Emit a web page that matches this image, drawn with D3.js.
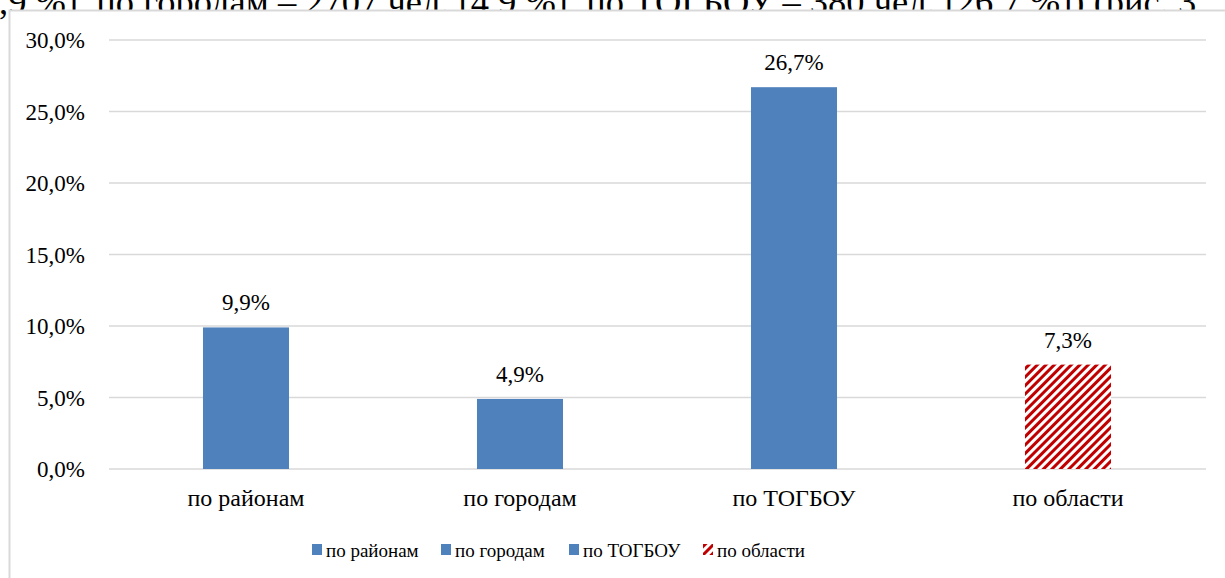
<!DOCTYPE html>
<html><head><meta charset="utf-8">
<script src="https://cdn.jsdelivr.net/npm/d3@7"></script>
<style>body{margin:0;background:#fff;overflow:hidden}svg{display:block}</style>
</head><body><svg id="c" width="1225" height="578" font-family="Tinos, 'Times New Roman', serif"></svg>
<script>
const categories = ["по районам", "по городам", "по ТОГБОУ", "по области"];
const values = [9.9, 4.9, 26.7, 7.3];
const valueLabels = ["9,9%", "4,9%", "26,7%", "7,3%"];
const patterned = [false, false, false, true];
const yTicks = [0, 5, 10, 15, 20, 25, 30];
const yTickLabels = ["0,0%", "5,0%", "10,0%", "15,0%", "20,0%", "25,0%", "30,0%"];
const topLine = ",9 %], по городам – 2707 чел. [4,9 %], по ТОГБОУ – 380 чел. [26,7 %]) (рис. 3";

const svg = d3.select("#c");
function T(sel){ return sel.style("font-family","Tinos, 'Times New Roman', serif").attr("fill","#000"); }

const defs = svg.append("defs");
const pat = defs.append("pattern").attr("id","hatch").attr("patternUnits","userSpaceOnUse")
  .attr("width",6).attr("height",6).attr("patternTransform","rotate(45)");
pat.append("rect").attr("width",6).attr("height",6).attr("fill","#fff");
pat.append("rect").attr("width",3).attr("height",6).attr("fill","#c00000");

// line of document text above the chart, partly hidden by the chart box
T(svg.append("text").attr("x",-1).attr("y",14).style("font-size","36.5px").text(topLine));

// chart box (white, covers the lower part of the text line)
svg.append("rect").attr("x",9.5).attr("y",10.5).attr("width",1300).attr("height",700)
  .attr("fill","#fff").attr("stroke","#d9d9d9").attr("stroke-width",2);

const x = d3.scaleBand().domain(categories).range([109,1205]).paddingInner(0.686).paddingOuter(0.343);
const y = d3.scaleLinear().domain([0,30]).range([469,40]);

const g = svg.append("g");
g.selectAll("line.grid").data(yTicks).join("line")
  .attr("x1",109).attr("x2",1206).attr("y1",d=>y(d)).attr("y2",d=>y(d))
  .attr("stroke","#d9d9d9").attr("stroke-width",1.5);

const yAxis = d3.axisLeft(y).tickValues(yTicks).tickFormat((d,i)=>yTickLabels[i]).tickSize(0).tickPadding(0);
const ya = svg.append("g").attr("transform","translate(85,0)").call(yAxis);
ya.attr("font-family",null).attr("font-size",null);
ya.select(".domain").remove();
T(ya.selectAll("text")).style("font-size","23px").attr("dy","0.33em");

const xAxis = d3.axisBottom(x).tickSize(0).tickPadding(0);
const xa = svg.append("g").attr("transform","translate(0,506)").call(xAxis);
xa.attr("font-family",null).attr("font-size",null);
xa.select(".domain").remove();
T(xa.selectAll("text")).style("font-size","24px").attr("dy",0);

g.selectAll("rect.bar").data(values).join("rect")
  .attr("x",(d,i)=>x(categories[i])).attr("width",x.bandwidth())
  .attr("y",d=>y(d)).attr("height",d=>y(0)-y(d))
  .attr("fill",(d,i)=>patterned[i]?"url(#hatch)":"#4f81bd");

T(g.selectAll("text.lbl").data(values).join("text")
  .attr("x",(d,i)=>x(categories[i])+x.bandwidth()/2).attr("y",d=>y(d)-17)
  .attr("text-anchor","middle").style("font-size","23px").text((d,i)=>valueLabels[i]));

const legX = [312, 441, 569, 703];
const leg = svg.append("g");
categories.forEach((c,i)=>{
  leg.append("rect").attr("x",legX[i]).attr("y",544).attr("width",10).attr("height",11)
    .attr("fill",patterned[i]?"url(#hatch)":"#4f81bd");
  T(leg.append("text").attr("x",legX[i]+14).attr("y",557).style("font-size","19px").text(c));
});
</script></body></html>
